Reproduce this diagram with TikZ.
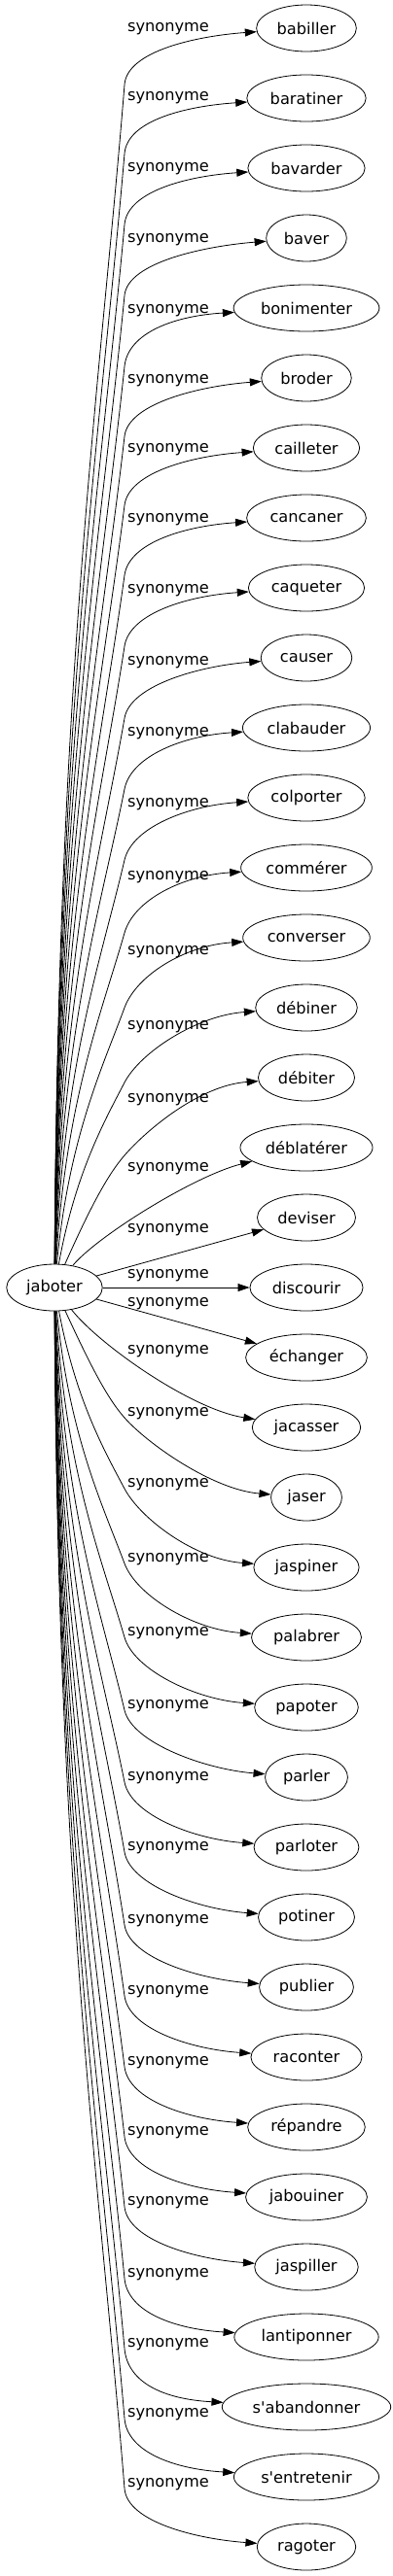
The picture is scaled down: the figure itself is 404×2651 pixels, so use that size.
\documentclass[tikz,border=0pt]{standalone}
\usepackage{fontspec}
\setmainfont{DejaVu Sans}
\usepackage{tikz}
\usetikzlibrary{arrows.meta,calc,shapes.geometric}

\tikzset{
  mot/.style={ellipse, draw, line width=0.8pt, minimum height=48pt, inner xsep=6pt, inner ysep=2pt},
  syn/.style={-{Triangle[length=12pt,width=8pt]}, line width=0.8pt},
  lab/.style={inner sep=0pt}
}

\begin{document}
\begin{tikzpicture}[x=1pt, y=-1pt, font=\fontsize{16.2}{19}\selectfont]
  \useasboundingbox (0,0) rectangle (404,2651);
  \node[mot] (jaboter)     at (56,1325)  {jaboter};
  \node[mot] (babiller)    at (315,29)   {babiller};
  \node[mot] (baratiner)   at (315,101)  {baratiner};
  \node[mot] (bavarder)    at (315,173)  {bavarder};
  \node[mot] (baver)       at (315,245)  {baver};
  \node[mot] (bonimenter)  at (315,317)  {bonimenter};
  \node[mot] (broder)      at (315,389)  {broder};
  \node[mot] (cailleter)   at (315,461)  {cailleter};
  \node[mot] (cancaner)    at (315,533)  {cancaner};
  \node[mot] (caqueter)    at (315,605)  {caqueter};
  \node[mot] (causer)      at (315,677)  {causer};
  \node[mot] (clabauder)   at (315,749)  {clabauder};
  \node[mot] (colporter)   at (315,821)  {colporter};
  \node[mot] (commerer)    at (315,893)  {commérer};
  \node[mot] (converser)   at (315,965)  {converser};
  \node[mot] (debiner)     at (315,1037) {débiner};
  \node[mot] (debiter)     at (315,1109) {débiter};
  \node[mot] (deblaterer)  at (315,1181) {déblatérer};
  \node[mot] (deviser)     at (315,1253) {deviser};
  \node[mot] (discourir)   at (315,1325) {discourir};
  \node[mot] (echanger)    at (315,1397) {échanger};
  \node[mot] (jacasser)    at (315,1469) {jacasser};
  \node[mot] (jaser)       at (315,1541) {jaser};
  \node[mot] (jaspiner)    at (315,1613) {jaspiner};
  \node[mot] (palabrer)    at (315,1685) {palabrer};
  \node[mot] (papoter)     at (315,1757) {papoter};
  \node[mot] (parler)      at (315,1829) {parler};
  \node[mot] (parloter)    at (315,1901) {parloter};
  \node[mot] (potiner)     at (315,1973) {potiner};
  \node[mot] (publier)     at (315,2045) {publier};
  \node[mot] (raconter)    at (315,2117) {raconter};
  \node[mot] (repandre)    at (315,2189) {répandre};
  \node[mot] (jabouiner)   at (315,2261) {jabouiner};
  \node[mot] (jaspiller)   at (315,2333) {jaspiller};
  \node[mot] (lantiponner) at (315,2405) {lantiponner};
  \node[mot] (sabandonner) at (315,2477) {s\textquotesingle abandonner};
  \node[mot] (sentretenir) at (315,2549) {s\textquotesingle entretenir};
  \node[mot] (ragoter)     at (315,2621) {ragoter};

  \foreach \nm/\ly in {babiller/30, baratiner/101, bavarder/174, baver/247, bonimenter/320,
      broder/392, cailleter/463, cancaner/535, caqueter/608, causer/682, clabauder/755,
      colporter/828, commerer/903, converser/980, debiner/1057, debiter/1132} {
    \pgfmathsetmacro\ky{\ly+57}
    \pgfmathsetmacro\dd{1301-\ky}
    \pgfmathsetmacro\ff{min(4000/\dd,40)}
    \pgfmathsetmacro\ang{atan(97/\dd)}
    \node[lab] (s-\nm) at (173,\ly) {synonyme};
    \coordinate (k-\nm) at (128,\ky);
    \draw[syn] (jaboter) .. controls ({56+\ff},{1301-0.5*\dd}) and ({128-0.25*\dd*sin(\ang)},{\ky+0.25*\dd*cos(\ang)}) .. (k-\nm)
      .. controls ({128+35*sin(\ang)},{\ky-35*cos(\ang)}) and ($(\nm.west)+(-60,8)$) .. (\nm);
  }

  \node[lab] (s-deblaterer) at (173,1203) {synonyme};
  \node[lab] (s-deviser)    at (173,1266) {synonyme};
  \node[lab] (s-discourir)  at (173,1313) {synonyme};
  \node[lab] (s-echanger)   at (173,1342) {synonyme};
  \node[lab] (s-jacasser)   at (173,1391) {synonyme};
  \draw[syn] (jaboter) .. controls (100,1272) and (200,1210) .. (deblaterer);
  \draw[syn] (jaboter) -- (deviser);
  \draw[syn] (jaboter) -- (discourir);
  \draw[syn] (jaboter) -- (echanger);
  \draw[syn] (jaboter) .. controls (100,1382) and (195,1450) .. (jacasser);

  \foreach \nm/\ly in {jaser/1455, jaspiner/1528, palabrer/1605, papoter/1681,
      parler/1756, parloter/1830, potiner/1902, publier/1977, raconter/2050, repandre/2123,
      jabouiner/2195, jaspiller/2267, lantiponner/2341, sabandonner/2413, sentretenir/2485, ragoter/2557} {
    \pgfmathsetmacro\ky{\ly+4}
    \pgfmathsetmacro\dd{\ky-1349}
    \pgfmathsetmacro\ff{min(4000/\dd,40)}
    \pgfmathsetmacro\ang{atan(97/\dd)}
    \node[lab] (s-\nm) at (173,\ly) {synonyme};
    \coordinate (k-\nm) at (128,\ky);
    \draw[syn] (jaboter) .. controls ({56+\ff},{1349+0.5*\dd}) and ({128-0.25*\dd*sin(\ang)},{\ky-0.25*\dd*cos(\ang)}) .. (k-\nm)
      .. controls ({128+35*sin(\ang)},{\ky+35*cos(\ang)}) and ($(\nm.west)+(-60,-8)$) .. (\nm);
  }
\end{tikzpicture}
\end{document}
